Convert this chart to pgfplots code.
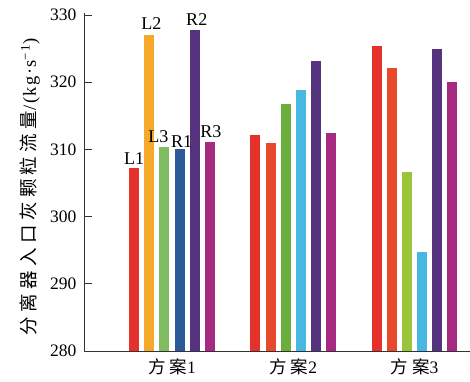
\documentclass[border=0pt]{standalone}
\usepackage{fontspec}
\setmainfont{Liberation Serif}
\newfontfamily\cjk[LetterSpace=24]{Noto Sans CJK SC}
\newfontfamily\cjkl[LetterSpace=24]{Noto Sans CJK SC}
\newfontfamily\sersp[LetterSpace=8]{Liberation Serif}
\usepackage{pgfplots}
\pgfplotsset{compat=1.18}
\definecolor{cred}{HTML}{E5312B}
\definecolor{corange}{HTML}{F5A829}
\definecolor{clgreen}{HTML}{7FBC62}
\definecolor{cblue}{HTML}{2C5A98}
\definecolor{cpurple}{HTML}{56337F}
\definecolor{cmagenta}{HTML}{A52A80}
\definecolor{cored}{HTML}{E8482B}
\definecolor{cgreen}{HTML}{6AAF3C}
\definecolor{ccyan}{HTML}{48B7E2}
\definecolor{cygreen}{HTML}{9CC43B}
\pgfplotsset{bb/.style={ybar, bar width=0.0825, bar shift=0pt, draw=none, fill=#1}}
\begin{document}
\begin{tikzpicture}
\useasboundingbox (0,0) rectangle (470pt,381pt);
\begin{axis}[
  at={(84pt,30pt)}, anchor=south west,
  scale only axis, width=386pt, height=338pt,
  xmin=-0.726, xmax=2.458, ymin=280, ymax=330.3,
  axis x line*=bottom, axis y line*=left,
  axis line style={-, line width=1pt, black!80},
  ytick={280,290,...,330},
  xtick={0,1,2},
  xticklabels={{\cjk 方案}1,{\cjk 方案}2,{\cjk 方案}3},
  tick align=inside, major tick length=8pt,
  major x tick style={draw=none},
  major y tick style={line width=1pt, black!80},
  tick label style={font=\fontsize{17.5}{20}\selectfont},
  yticklabel style={xshift=-4pt},
  xticklabel style={yshift=-4pt},
  /pgf/number format/assume math mode=true,
  ylabel={{\cjkl 分离器入口灰颗粒流量}{\sersp /(kg·s\textsuperscript{−1})}},
  every axis y label/.style={at={(axis description cs:-0.14,0.485)}, rotate=90, anchor=center, font=\fontsize{18.5}{20}\selectfont},
]
% group 1
\addplot[bb=cred]     coordinates {(-0.3125,307.2)};
\addplot[bb=corange]  coordinates {(-0.1875,327.0)};
\addplot[bb=clgreen]  coordinates {(-0.0625,310.4)};
\addplot[bb=cblue]    coordinates {(0.0625,310.0)};
\addplot[bb=cpurple]  coordinates {(0.1875,327.7)};
\addplot[bb=cmagenta] coordinates {(0.3125,311.1)};
% group 2
\addplot[bb=cred]     coordinates {(0.6875,312.2)};
\addplot[bb=cored]    coordinates {(0.8125,310.9)};
\addplot[bb=cgreen]   coordinates {(0.9375,316.7)};
\addplot[bb=ccyan]    coordinates {(1.0625,318.8)};
\addplot[bb=cpurple]  coordinates {(1.1875,323.1)};
\addplot[bb=cmagenta] coordinates {(1.3125,312.4)};
% group 3
\addplot[bb=cred]     coordinates {(1.6875,325.4)};
\addplot[bb=cored]    coordinates {(1.8125,322.1)};
\addplot[bb=cygreen]  coordinates {(1.9375,306.6)};
\addplot[bb=ccyan]    coordinates {(2.0625,294.7)};
\addplot[bb=cpurple]  coordinates {(2.1875,325.0)};
\addplot[bb=cmagenta] coordinates {(2.3125,320.0)};
% labels
\begin{scope}[every node/.style={anchor=south, inner sep=0pt, font=\fontsize{18}{20}\selectfont}]
\node[yshift=4pt] at (axis cs:-0.3125,307.2) {L1};
\node[yshift=5pt, xshift=2pt] at (axis cs:-0.1875,327.0) {L2};
\node[yshift=4pt, xshift=-6pt] at (axis cs:-0.0625,310.4) {L3};
\node[yshift=2pt, xshift=2pt] at (axis cs:0.0625,310.0) {R1};
\node[yshift=5pt, xshift=2pt] at (axis cs:0.1875,327.7) {R2};
\node[yshift=4pt, xshift=1pt] at (axis cs:0.3125,311.1) {R3};
\end{scope}
\end{axis}
\end{tikzpicture}
\end{document}
